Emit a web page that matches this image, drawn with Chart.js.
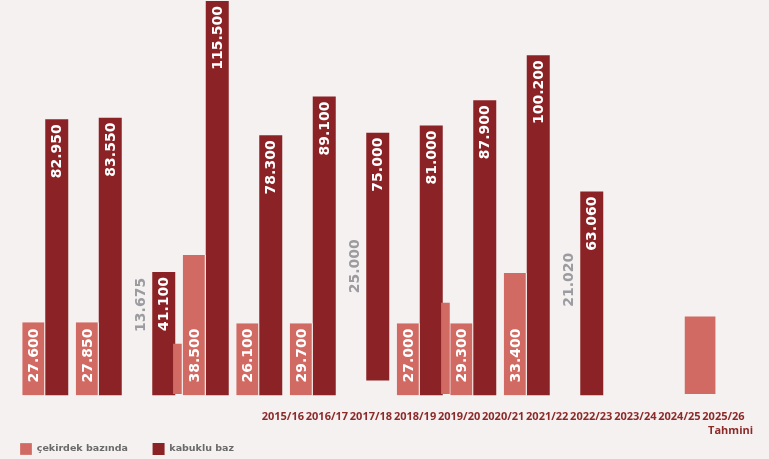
<!DOCTYPE html>
<html lang="tr">
<head>
<meta charset="utf-8">
<title>Fındık üretimi</title>
<script src="https://cdn.jsdelivr.net/npm/chart.js@4.4.1/dist/chart.umd.min.js"></script>
<style>
  html, body { margin: 0; padding: 0; background: #f5f1f0; }
  .wrap { position: relative; width: 769px; height: 459px; }
  canvas { display: block; position: absolute; left: 0; top: 0; }
  #stray { pointer-events: none; }
</style>
</head>
<body>
<div class="wrap">
  <canvas id="chart" width="769" height="459"></canvas>
  <canvas id="stray" width="769" height="459"></canvas>
</div>
<script>
const seasons = ['2015/16', '2016/17', '2017/18', '2018/19', '2019/20', '2020/21',
  '2021/22', '2022/23', '2023/24', '2024/25', '2025/26'];

// printed values (ton)
const cekirdekValues = [27600, 27850, 13675, 38500, 26100, 29700, 25000, 27000, 29300, 33400, 21020];
const kabukluValues = [82950, 83550, 41100, 115500, 78300, 89100, 75000, 81000, 87900, 100200, 63060];

// bar heights as they are drawn in the picture (bin ton)
const cekirdekBars = [21.5, 21.5, null, 41.2, 21.2, 21.2, null, 21.2, 21.2, 35.9, null];
const kabukluBars = [81.0, 81.5, 36.2, 115.7, 76.3, 87.7, [4.4, 77.1], 79.2, 86.6, 99.8, 59.8];

// stray light bars between the groups (x in group units)
const strayThin = [{ x: 2.97, y: 14.7 }, { x: 7.98, y: 26.8 }];
const strayWide = [{ x: 12.74, y: 22.7 }];

const LIGHT = '#d06a62';
const DARK = '#8b2326';
const PAD = { top: 0, left: 18.5, right: 1.5 };
const Y_MAX = 116;
const fmt = (n) => new Intl.NumberFormat('tr-TR').format(n);

const barSlots = [...seasons, '', '', ''];
const tickSlots = ['', '', '', '', '', '', ...seasons.slice(0, 10),
  [seasons[10], '\u00a0\u00a0\u00a0\u00a0\u00a0Tahmini'], ''];

function drawUp(ctx, text, x, y, align, color) {
  ctx.save();
  ctx.translate(x, y);
  ctx.rotate(-Math.PI / 2);
  ctx.textAlign = align;
  ctx.fillStyle = color;
  ctx.fillText(text, 0, 1);
  ctx.restore();
}

const barLabels = {
  id: 'barLabels',
  afterDatasetsDraw(chart) {
    const ctx = chart.ctx;
    const yScale = chart.scales.y;
    const base = yScale.getPixelForValue(0);
    ctx.save();
    ctx.font = 'bold 14px "DejaVu Sans"';
    ctx.textBaseline = 'middle';

    chart.getDatasetMeta(1).data.forEach((bar, i) => {
      drawUp(ctx, fmt(kabukluValues[i]), bar.x, bar.y + 5, 'right', '#ffffff');
    });

    chart.getDatasetMeta(0).data.forEach((bar, i) => {
      const text = fmt(cekirdekValues[i]);
      if (cekirdekBars[i] == null) {
        const y = yScale.getPixelForValue(cekirdekValues[i] / 1000) - 17;
        drawUp(ctx, text, bar.x, y, 'left', '#9b9ba0');
      } else {
        drawUp(ctx, text, bar.x, base - 13, 'left', '#ffffff');
      }
    });
    ctx.restore();
  }
};

// the legend row sits lower than Chart.js puts it
const legendLower = {
  id: 'legendLower',
  beforeLayout(chart) {
    const legend = chart.legend;
    if (legend && !legend._lowered) {
      const fit = legend.fit;
      legend.fit = function () {
        fit.call(this);
        this.height -= 6;
      };
      legend._lowered = true;
    }
  }
};

new Chart(document.getElementById('chart'), {
  type: 'bar',
  data: {
    datasets: [
      {
        label: 'çekirdek bazında\u00a0\u00a0\u00a0\u00a0\u00a0\u00a0\u00a0',
        data: cekirdekBars,
        backgroundColor: LIGHT,
        borderColor: '#ffffff',
        borderWidth: { top: 0, right: 1, bottom: 0, left: 0 },
        borderSkipped: false,
        categoryPercentage: 0.86,
        barPercentage: 1
      },
      {
        label: 'kabuklu baz',
        data: kabukluBars,
        backgroundColor: DARK,
        borderWidth: 0,
        categoryPercentage: 0.86,
        barPercentage: 1
      }
    ]
  },
  options: {
    responsive: false,
    animation: false,
    devicePixelRatio: 1,
    layout: { padding: { ...PAD, bottom: 0 } },
    plugins: {
      tooltip: { enabled: false },
      legend: {
        position: 'bottom',
        align: 'start',
        labels: {
          boxWidth: 12,
          boxHeight: 12,
          padding: 1.5,
          color: '#6a6a6a',
          font: { family: '"DejaVu Sans"', size: 9.5, weight: 'bold' }
        }
      }
    },
    scales: {
      x: {
        type: 'category',
        labels: barSlots,
        display: false,
        offset: true
      },
      x2: {
        type: 'category',
        labels: tickSlots,
        position: 'bottom',
        offset: false,
        grid: { display: false, drawTicks: false },
        border: { display: false },
        afterFit: (scale) => {
          scale.height = 46;
          scale.paddingLeft = 0;
          scale.paddingRight = 0;
        },
        ticks: {
          autoSkip: false,
          maxRotation: 0,
          padding: 13.5,
          color: '#8c2a2a',
          font: { family: '"Open Sans"', size: 11, weight: 'bold', lineHeight: 1.35 }
        }
      },
      y: { min: 0, max: Y_MAX, display: false }
    }
  },
  plugins: [barLabels, legendLower]
});

// stray bars on an overlay with the same plot area (bottom of plot at 394px)
new Chart(document.getElementById('stray'), {
  type: 'bar',
  data: {
    datasets: [
      { data: strayThin, backgroundColor: LIGHT, barThickness: 8, stack: 'g', grouped: false },
      { data: strayWide, backgroundColor: LIGHT, barThickness: 30, stack: 'g', grouped: false }
    ]
  },
  options: {
    responsive: false,
    animation: false,
    devicePixelRatio: 1,
    layout: { padding: { ...PAD, bottom: 65 } },
    plugins: { legend: { display: false }, tooltip: { enabled: false } },
    scales: {
      x: { type: 'linear', min: 0, max: barSlots.length, offset: false, display: false },
      y: { min: 0, max: Y_MAX, display: false }
    }
  }
});
</script>
</body>
</html>
